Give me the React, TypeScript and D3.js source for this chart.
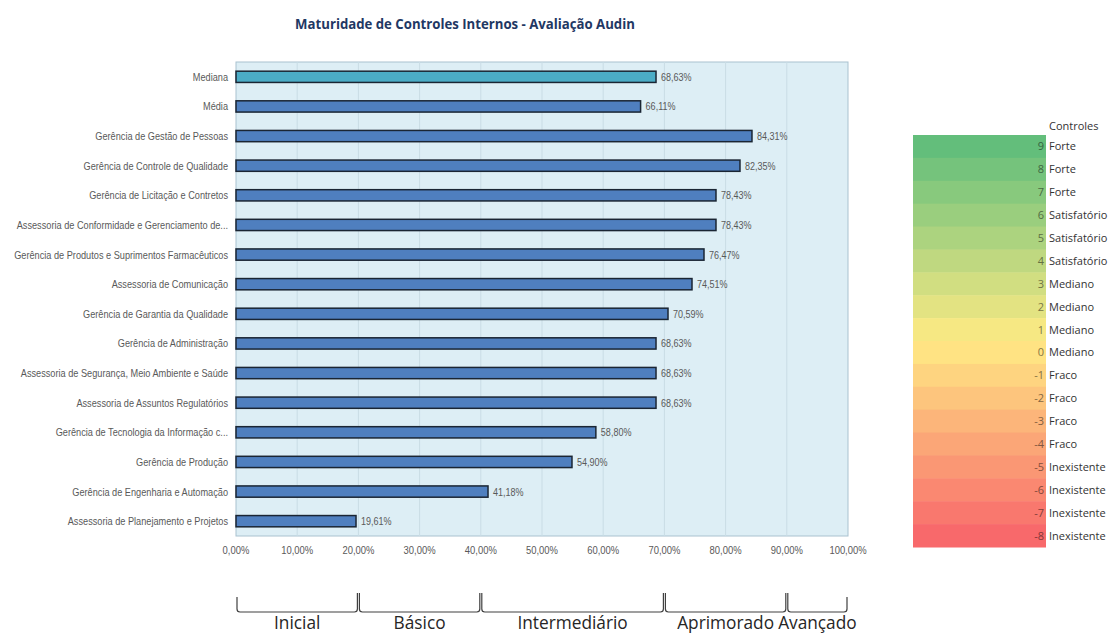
import React from "react";
import * as d3 from "d3";

const categories = [
  "Mediana",
  "Média",
  "Gerência de Gestão de Pessoas",
  "Gerência de Controle de Qualidade",
  "Gerência de Licitação e Contretos",
  "Assessoria de Conformidade e Gerenciamento de...",
  "Gerência de Produtos e Suprimentos Farmacêuticos",
  "Assessoria de Comunicação",
  "Gerência de Garantia da Qualidade",
  "Gerência de Administração",
  "Assessoria de Segurança, Meio Ambiente e Saúde",
  "Assessoria de Assuntos Regulatórios",
  "Gerência de Tecnologia da Informação c...",
  "Gerência de Produção",
  "Gerência de Engenharia e Automação",
  "Assessoria de Planejamento e Projetos",
];
const values = [68.63, 66.11, 84.31, 82.35, 78.43, 78.43, 76.47, 74.51, 70.59, 68.63, 68.63, 68.63, 58.8, 54.9, 41.18, 19.61];
const xTicks = [0, 10, 20, 30, 40, 50, 60, 70, 80, 90, 100];

const legendLevels = [9, 8, 7, 6, 5, 4, 3, 2, 1, 0, -1, -2, -3, -4, -5, -6, -7, -8];
const legendNames = [
  "Forte", "Forte", "Forte", "Satisfatório", "Satisfatório", "Satisfatório",
  "Mediano", "Mediano", "Mediano", "Mediano", "Fraco", "Fraco", "Fraco", "Fraco",
  "Inexistente", "Inexistente", "Inexistente", "Inexistente",
];

const bracketStops = [0, 20, 40, 70, 90, 100];
const bracketLabels = ["Inicial", "Básico", "Intermediário", "Aprimorado", "Avançado"];

const fmt = (v: number) => v.toFixed(2).replace(".", ",") + "%";

const LIB = "'Liberation Sans', Arial, sans-serif";
const OPEN = "'Open Sans', sans-serif";

function SText(props: {
  x: number; y: number; s: number; anchor?: string; size: number; fill: string;
  family?: string; weight?: string; children: React.ReactNode;
}) {
  return (
    <text
      transform={`translate(${props.x},${props.y}) scale(${props.s},1)`}
      textAnchor={props.anchor || "start"}
      fontFamily={props.family || LIB}
      fontSize={props.size}
      fontWeight={props.weight || "normal"}
      fill={props.fill}
    >
      {props.children}
    </text>
  );
}

export default function App() {
  const W = 1110, H = 635;
  const plot = { left: 236, right: 848, top: 62, bottom: 536 };
  const x = d3.scaleLinear().domain([0, 100]).range([plot.left, plot.right]);
  const y = d3
    .scaleBand<string>()
    .domain(categories)
    .range([plot.top, plot.bottom])
    .paddingInner(0.62)
    .paddingOuter(0.31);

  const ly = d3.scaleBand<string>().domain(legendLevels.map(String)).range([135, 547]);
  const lc = d3
    .scaleLinear<string>()
    .domain([-8, 0.5, 9])
    .range(["#F8696B", "#FFEB84", "#63BE7B"])
    .interpolate(d3.interpolateRgb);

  const bracketY = 612;

  return (
    <div style={{ position: "absolute", left: 0, top: 0 }}>
      <svg width={W} height={H} style={{ display: "block", background: "#fff" }}>
        <SText x={465} y={29} s={0.88} anchor="middle" size={15} family={OPEN} weight="bold" fill="#1F3864">
          Maturidade de Controles Internos - Avaliação Audin
        </SText>

        {/* plot area */}
        <rect
          x={plot.left}
          y={plot.top}
          width={plot.right - plot.left}
          height={plot.bottom - plot.top}
          fill="#DDEEF5"
          stroke="#A9C2CF"
          strokeWidth={1}
        />
        {xTicks.slice(1, -1).map((t) => (
          <line key={t} x1={x(t)} x2={x(t)} y1={plot.top} y2={plot.bottom} stroke="#C9DCE5" strokeWidth={1} />
        ))}

        {categories.map((c, i) => {
          const by = y(c)!;
          const bh = y.bandwidth();
          return (
            <g key={c}>
              <rect
                x={x(0)}
                y={by}
                width={x(values[i]) - x(0)}
                height={bh}
                fill={i === 0 ? "#4BACC6" : "#4F7FBF"}
                stroke="#1A2533"
                strokeWidth={1.5}
              />
              <SText x={x(values[i]) + 5} y={by + bh / 2 + 4} s={0.86} size={10.5} fill="#595959">
                {fmt(values[i])}
              </SText>
              <SText x={plot.left - 8} y={by + bh / 2 + 4} s={0.875} anchor="end" size={10.5} fill="#595959">
                {c}
              </SText>
            </g>
          );
        })}

        {xTicks.map((t) => (
          <SText key={t} x={x(t)} y={554} s={0.9} anchor="middle" size={10.5} fill="#595959">
            {fmt(t)}
          </SText>
        ))}

        {/* brackets */}
        {bracketLabels.map((lab, i) => {
          const x0 = x(bracketStops[i]);
          const x1 = x(bracketStops[i + 1]);
          const t0 = i === 0 ? 597 : 593;
          const t1 = i === bracketLabels.length - 1 ? 597 : 593;
          const p = `M${x0 + 1},${t0} L${x0 + 1},${bracketY - 3} Q${x0 + 1},${bracketY} ${x0 + 4},${bracketY} L${x1 - 4},${bracketY} Q${x1 - 1},${bracketY} ${x1 - 1},${bracketY - 3} L${x1 - 1},${t1}`;
          return (
            <g key={lab}>
              <path d={p} fill="none" stroke="#404040" strokeWidth={1.2} />
              <SText x={(x0 + x1) / 2} y={629} s={0.96} anchor="middle" size={18} family={OPEN} fill="#262626">
                {lab}
              </SText>
            </g>
          );
        })}

        {/* legend */}
        <text x={1049} y={130} fontFamily={OPEN} fontSize={11} fill="#333">
          Controles
        </text>
        {legendLevels.map((lv, i) => {
          const c = lc(lv);
          const ry = ly(String(lv))!;
          const rh = ly.bandwidth();
          return (
            <g key={lv}>
              <rect x={913} y={ry} width={133} height={rh + 0.5} fill={c} />
              <text
                x={1044}
                y={ry + rh / 2 + 4}
                textAnchor="end"
                fontFamily={OPEN}
                fontSize={11}
                fill={d3.color(c)!.darker(1.8).formatHex()}
              >
                {lv}
              </text>
              <text x={1049} y={ry + rh / 2 + 4} fontFamily={OPEN} fontSize={11} fill="#333">
                {legendNames[i]}
              </text>
            </g>
          );
        })}
      </svg>
    </div>
  );
}
